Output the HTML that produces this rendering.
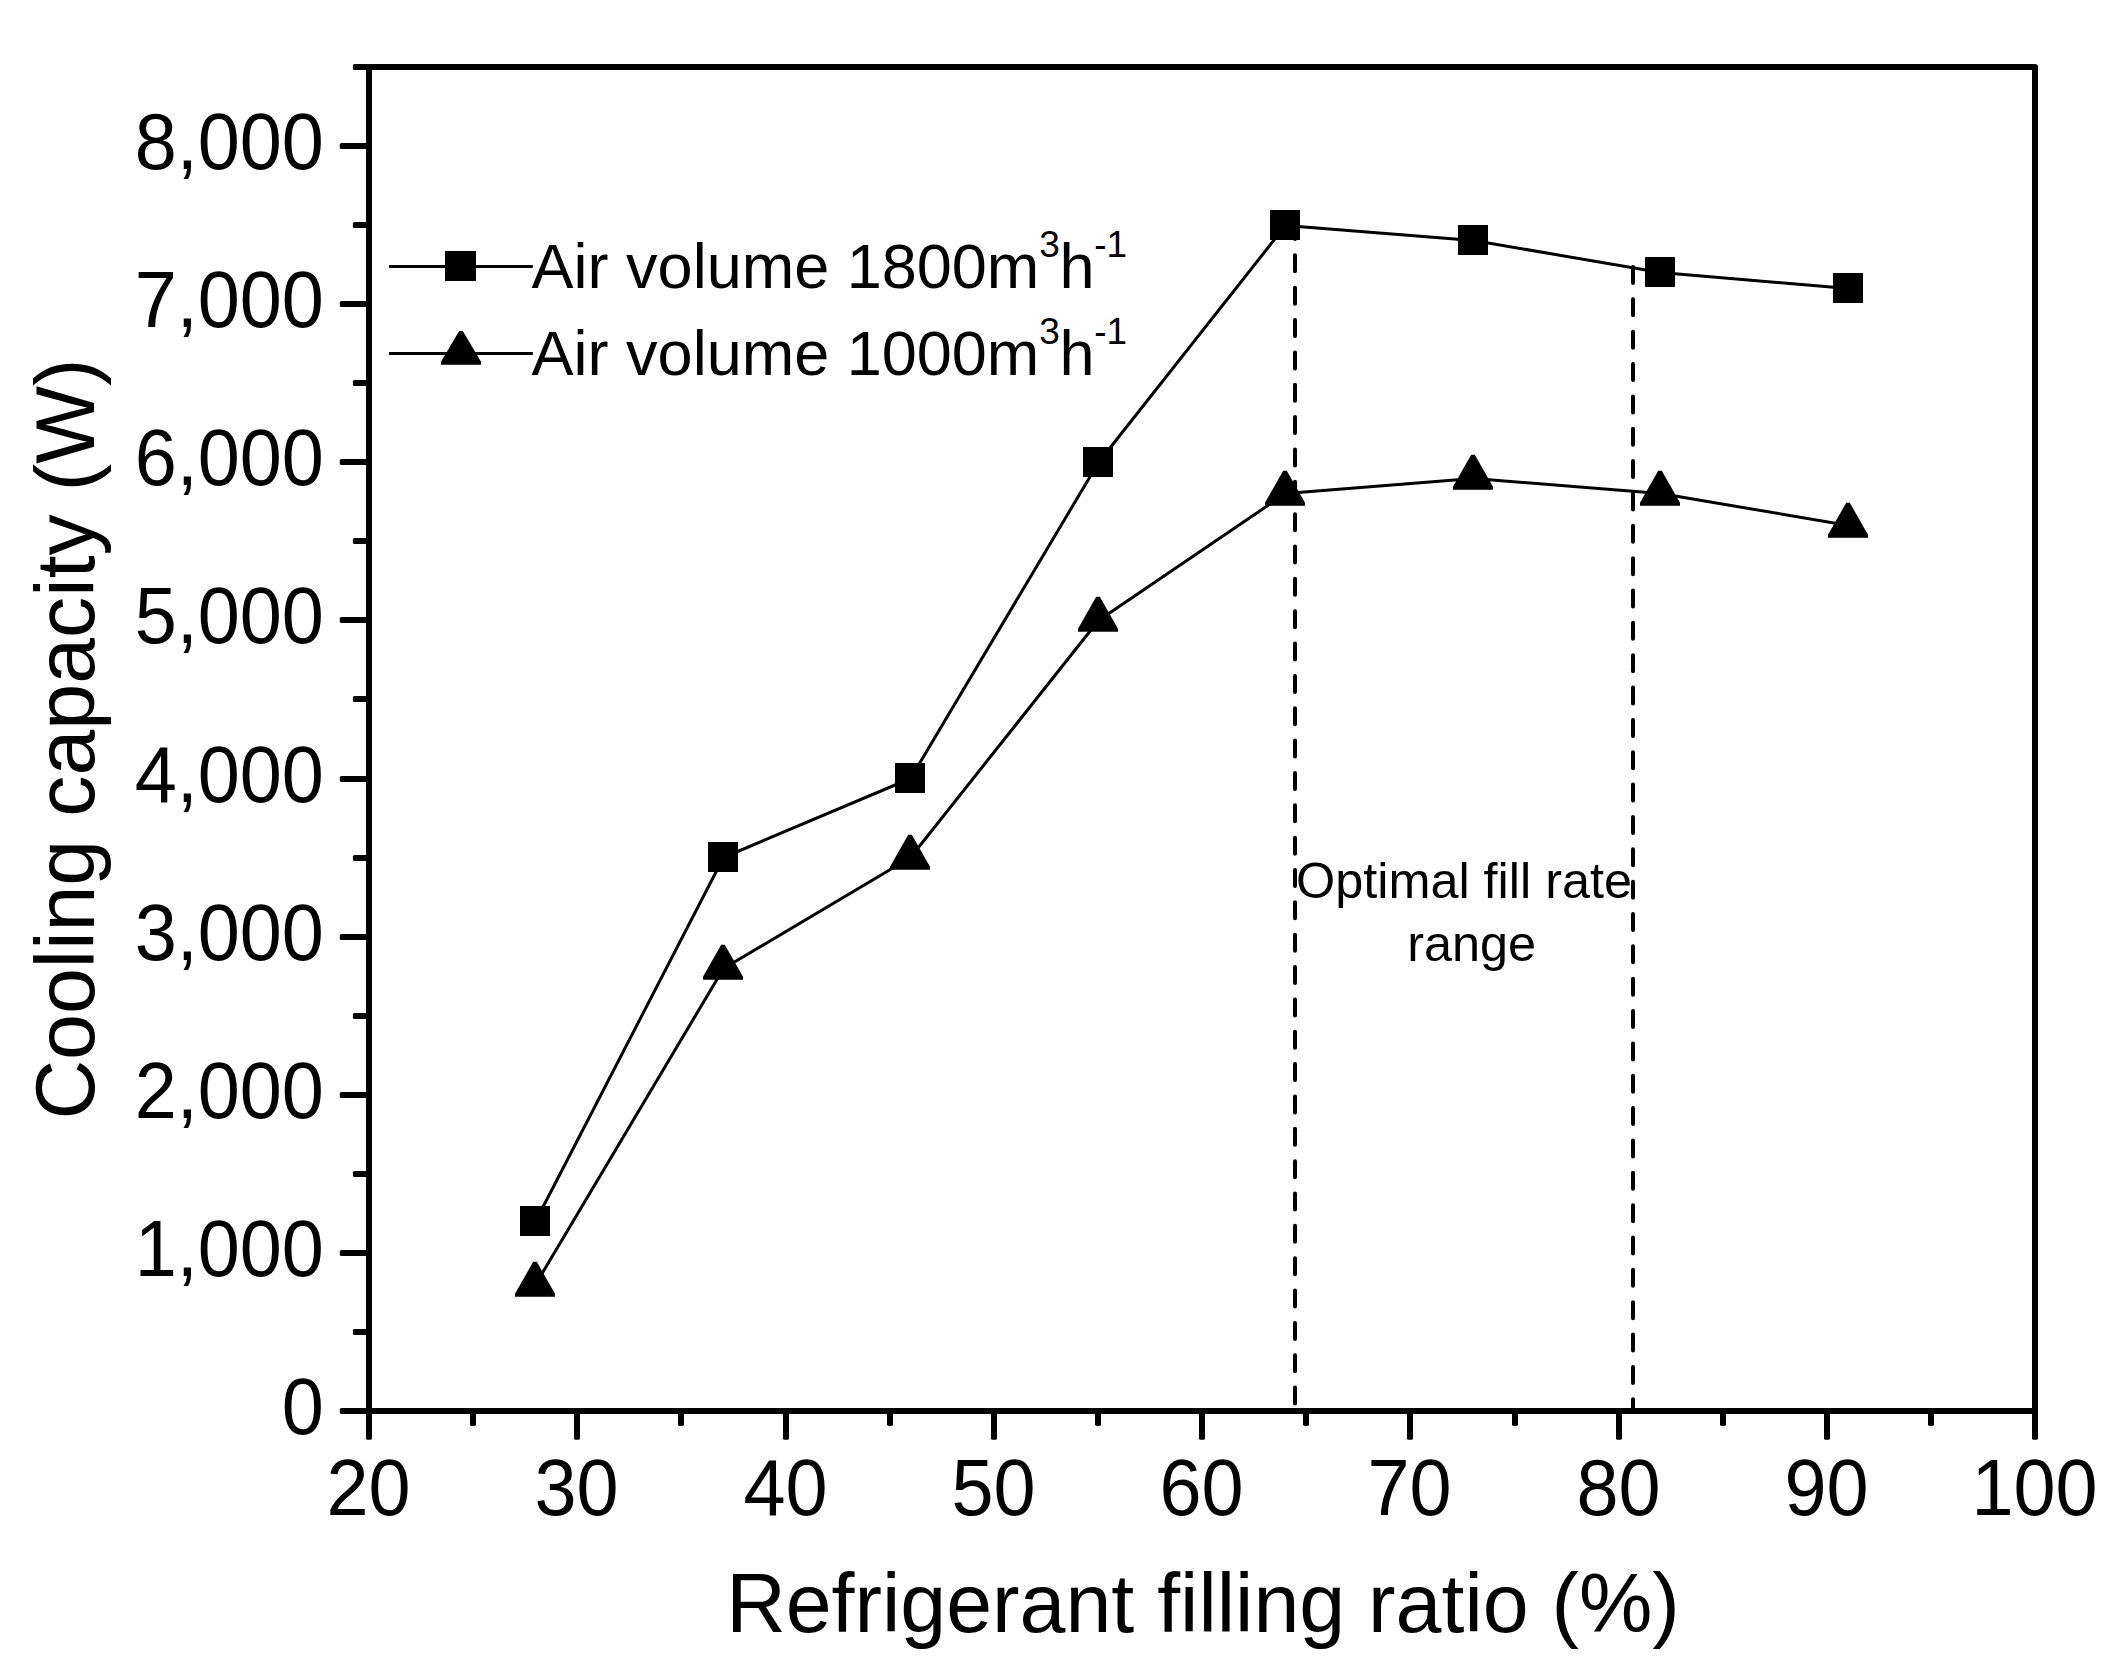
<!DOCTYPE html>
<html lang="en"><head><meta charset="utf-8"><title>Cooling capacity vs refrigerant filling ratio</title>
<style>html,body{margin:0;padding:0;background:#fff}body{width:2120px;height:1678px;overflow:hidden}svg{display:block}text{font-family:"Liberation Sans",Arial,Helvetica,sans-serif;fill:#000}</style>
</head><body>
<svg width="2120" height="1678" viewBox="0 0 2120 1678">
<rect width="2120" height="1678" fill="#fff"/>
<g stroke="#000" stroke-width="6" fill="none" stroke-linecap="round" stroke-linejoin="round">
<path d="M369 1411 L369 67 L2035 67 L2035 1411 Z"/>
</g>
<g fill="#000">
<rect x="339.8" y="1408" width="29.2" height="6" rx="1.6"/>
<rect x="352.9" y="1329" width="16.1" height="6" rx="1.6"/>
<rect x="339.8" y="1250" width="29.2" height="6" rx="1.6"/>
<rect x="352.9" y="1171" width="16.1" height="6" rx="1.6"/>
<rect x="339.8" y="1092" width="29.2" height="6" rx="1.6"/>
<rect x="352.9" y="1013" width="16.1" height="6" rx="1.6"/>
<rect x="339.8" y="934" width="29.2" height="6" rx="1.6"/>
<rect x="352.9" y="855" width="16.1" height="6" rx="1.6"/>
<rect x="339.8" y="776" width="29.2" height="6" rx="1.6"/>
<rect x="352.9" y="696" width="16.1" height="6" rx="1.6"/>
<rect x="339.8" y="617" width="29.2" height="6" rx="1.6"/>
<rect x="352.9" y="538" width="16.1" height="6" rx="1.6"/>
<rect x="339.8" y="459" width="29.2" height="6" rx="1.6"/>
<rect x="352.9" y="380" width="16.1" height="6" rx="1.6"/>
<rect x="339.8" y="301" width="29.2" height="6" rx="1.6"/>
<rect x="352.9" y="222" width="16.1" height="6" rx="1.6"/>
<rect x="339.8" y="143" width="29.2" height="6" rx="1.6"/>
<rect x="352.9" y="64" width="16.1" height="6" rx="1.6"/>
<rect x="366" y="1411" width="6" height="28.85" rx="1.6"/>
<rect x="470" y="1411" width="6" height="14.9" rx="1.6"/>
<rect x="574" y="1411" width="6" height="28.85" rx="1.6"/>
<rect x="678" y="1411" width="6" height="14.9" rx="1.6"/>
<rect x="783" y="1411" width="6" height="28.85" rx="1.6"/>
<rect x="887" y="1411" width="6" height="14.9" rx="1.6"/>
<rect x="991" y="1411" width="6" height="28.85" rx="1.6"/>
<rect x="1095" y="1411" width="6" height="14.9" rx="1.6"/>
<rect x="1199" y="1411" width="6" height="28.85" rx="1.6"/>
<rect x="1303" y="1411" width="6" height="14.9" rx="1.6"/>
<rect x="1407" y="1411" width="6" height="28.85" rx="1.6"/>
<rect x="1512" y="1411" width="6" height="14.9" rx="1.6"/>
<rect x="1616" y="1411" width="6" height="28.85" rx="1.6"/>
<rect x="1720" y="1411" width="6" height="14.9" rx="1.6"/>
<rect x="1824" y="1411" width="6" height="28.85" rx="1.6"/>
<rect x="1928" y="1411" width="6" height="14.9" rx="1.6"/>
<rect x="2032" y="1411" width="6" height="28.85" rx="1.6"/>
</g>
<g stroke="#000" stroke-width="4" fill="none" stroke-linecap="round" stroke-dasharray="16 16.35">
<path d="M1295 223 V1406"/>
<path d="M1633 267 V1408"/>
</g>
<g stroke="#000" stroke-width="3" fill="none" stroke-linejoin="round">
<polyline points="535.5,1221.5 723.5,857.5 910.5,778.5 1098.5,462.5 1285.5,225.5 1473.5,240.5 1660.5,272.5 1848.5,288.5"/>
<polyline points="535.5,1284.5 723.5,968.5 910.5,857.5 1098.5,620.5 1285.5,493.5 1473.5,478.5 1660.5,493.5 1848.5,525.5"/>
<path d="M389 266.5 H532.8 M389 353.5 H532.8"/>
</g>
<g fill="#000">
<rect x="520" y="1206" width="30" height="30"/>
<rect x="708" y="842" width="30" height="30"/>
<rect x="895" y="763" width="30" height="30"/>
<rect x="1083" y="447" width="30" height="30"/>
<rect x="1270" y="210" width="30" height="30"/>
<rect x="1458" y="225" width="30" height="30"/>
<rect x="1645" y="257" width="30" height="30"/>
<rect x="1833" y="273" width="30" height="30"/>
<rect x="445" y="251" width="31" height="30"/>
<polygon points="533.2,1261.8 536.8,1261.8 555,1293.8 555,1296.8 515,1296.8 515,1293.8"/>
<polygon points="721.2,944.8 724.8,944.8 743,976.8 743,979.8 703,979.8 703,976.8"/>
<polygon points="908.2,834.8 911.8,834.8 930,866.8 930,869.8 890,869.8 890,866.8"/>
<polygon points="1096.2,596.8 1099.8,596.8 1118,628.8 1118,631.8 1078,631.8 1078,628.8"/>
<polygon points="1283.2,470.8 1286.8,470.8 1305,502.8 1305,505.8 1265,505.8 1265,502.8"/>
<polygon points="1471.2,454.8 1474.8,454.8 1493,486.8 1493,489.8 1453,489.8 1453,486.8"/>
<polygon points="1658.2,470.8 1661.8,470.8 1680,502.8 1680,505.8 1640,505.8 1640,502.8"/>
<polygon points="1846.2,502.8 1849.8,502.8 1868,534.8 1868,537.8 1828,537.8 1828,534.8"/>
<polygon points="459.2,331 462.8,331 481,361.8 481,364.8 441,364.8 441,361.8"/>
</g>
<g font-size="75.6" text-anchor="end">
<text transform="translate(323.8 1433.5) scale(1 1.05)">0</text>
<text transform="translate(323.8 1275.5) scale(1 1.05)">1,000</text>
<text transform="translate(323.8 1117.5) scale(1 1.05)">2,000</text>
<text transform="translate(323.8 959.5) scale(1 1.05)">3,000</text>
<text transform="translate(323.8 801.5) scale(1 1.05)">4,000</text>
<text transform="translate(323.8 642.5) scale(1 1.05)">5,000</text>
<text transform="translate(323.8 484.5) scale(1 1.05)">6,000</text>
<text transform="translate(323.8 326.5) scale(1 1.05)">7,000</text>
<text transform="translate(323.8 168.5) scale(1 1.05)">8,000</text>
</g>
<g font-size="75.6" text-anchor="middle">
<text transform="translate(368.6 1515.3) scale(1 1.05)">20</text>
<text transform="translate(576.6 1515.3) scale(1 1.05)">30</text>
<text transform="translate(785.6 1515.3) scale(1 1.05)">40</text>
<text transform="translate(993.6 1515.3) scale(1 1.05)">50</text>
<text transform="translate(1201.6 1515.3) scale(1 1.05)">60</text>
<text transform="translate(1409.6 1515.3) scale(1 1.05)">70</text>
<text transform="translate(1618.6 1515.3) scale(1 1.05)">80</text>
<text transform="translate(1826.6 1515.3) scale(1 1.05)">90</text>
<text transform="translate(2034.6 1515.3) scale(1 1.05)">100</text>
</g>
<text x="1203" y="1632" font-size="82.5" text-anchor="middle">Refrigerant filling ratio (%)</text>
<text transform="translate(93.5 739) rotate(-90)" font-size="82.5" text-anchor="middle">Cooling capacity (W)</text>
<text x="531.6" y="287.5" font-size="63">Air volume 1800m<tspan font-size="37" dy="-30.8">3</tspan><tspan dy="30.8" dx="-0.3">h</tspan><tspan font-size="37" dy="-30.8" dx="-0.5">-1</tspan></text>
<text x="531.6" y="374.5" font-size="63">Air volume 1000m<tspan font-size="37" dy="-30.8">3</tspan><tspan dy="30.8" dx="-0.3">h</tspan><tspan font-size="37" dy="-30.8" dx="-0.5">-1</tspan></text>
<text x="1464" y="898" font-size="50.4" text-anchor="middle">Optimal fill rate</text>
<text x="1471.7" y="961" font-size="50.4" text-anchor="middle">range</text>
</svg>
</body></html>
